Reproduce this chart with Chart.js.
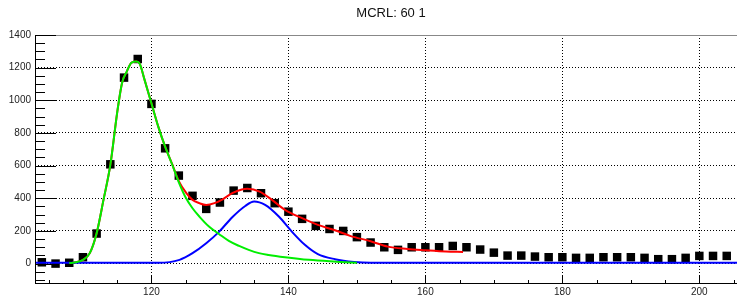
<!DOCTYPE html>
<html>
<head>
<meta charset="utf-8">
<script src="https://cdn.jsdelivr.net/npm/chart.js@4/dist/chart.umd.min.js"></script>
<style>
  html, body { margin: 0; padding: 0; background: #fff; }
  #wrap { width: 743px; height: 297px; }
</style>
</head>
<body>
<div id="wrap"><canvas id="fitChart"></canvas></div>
<script>
// histogram bins (centres) and counts
const binX = [104, 106, 108, 110, 112, 114, 116, 118, 120, 122, 124, 126, 128, 130, 132, 134,
              136, 138, 140, 142, 144, 146, 148, 150, 152, 154, 156, 158, 160, 162, 164, 166,
              168, 170, 172, 174, 176, 178, 180, 182, 184, 186, 188, 190, 192, 194, 196, 198,
              200, 202, 204];
const binY = [8, 0, 5, 39, 184, 608, 1139, 1253, 978, 706, 539, 415, 335, 374, 447, 463,
              431, 370, 318, 274, 231, 212, 200, 162, 129, 100, 84, 100, 100, 100, 108, 100,
              86, 67, 49, 49, 43, 39, 39, 35, 35, 39, 39, 39, 35, 27, 27, 35,
              47, 47, 47];

// total fit (red)
const totalX = [108, 109, 110, 111, 112, 113, 114, 115, 115.7, 116.4, 117.1, 117.8, 118.3, 119, 120, 121,
                122, 123, 124, 125.1, 126, 127, 128, 129.2, 130.4, 131.8, 133.2, 134, 135.8, 137.6, 139.5, 142,
                144.3, 146.8, 149, 152, 154.5, 157.4, 160, 163, 165.5];
const totalY = [3, 8, 23, 64, 186, 390, 604, 925, 1105, 1176, 1231, 1237, 1223, 1125, 982, 839,
                716, 612, 505, 431, 390, 370, 359, 370, 394, 431, 454, 458, 441, 390, 329, 278,
                237, 204, 170, 137, 104, 90, 82, 74, 71];

// first peak (green)
const peak1X = [108, 109, 110, 111, 112, 113, 114, 115, 115.7, 116.4, 117.1, 117.8, 118.3, 119, 120, 121,
                122, 123, 124, 125, 126, 127, 128.4, 129.9, 131.3, 132.8, 134.2, 135.7, 137.1, 139.5, 143, 147,
                150];
const peak1Y = [3, 8, 23, 64, 186, 390, 604, 925, 1105, 1176, 1231, 1237, 1223, 1125, 982, 839,
                716, 610, 498, 405, 339, 288, 227, 180, 139, 108, 84, 64, 53, 39, 23, 12,
                5];

// second peak (blue)
const peak2X = [103, 121, 124.1, 126, 128, 129.9, 131.8, 133.7, 135, 136.6, 138.6, 140.5, 142.4, 144.3, 146.8, 149.6,
                152, 205.5];
const peak2Y = [5, 5, 23, 64, 125, 196, 284, 353, 380, 359, 288, 196, 115, 58, 27, 10,
                5, 5];

const xMajor = [120, 140, 160, 180, 200];
const yMajor = [0, 200, 400, 600, 800, 1000, 1200, 1400];

function toPoints(xs, ys)
{
    return xs.map((x, i) => ({ x: x, y: ys[i] }));
}

// ROOT style frame with inward ticks
const rootFrame = {
    id: 'rootFrame',
    afterDatasetsDraw(chart) {
        const ctx = chart.ctx;
        const a = chart.chartArea;
        const xs = chart.scales.x;
        const ys = chart.scales.y;
        ctx.save();

        // top edge of the frame, light
        ctx.strokeStyle = '#888';
        ctx.lineWidth = 1;
        ctx.beginPath();
        ctx.moveTo(a.left, a.top + 0.5);
        ctx.lineTo(a.right, a.top + 0.5);
        ctx.stroke();

        ctx.strokeStyle = '#000';
        ctx.beginPath();
        for (let v = 105; v <= 205; v += 5)
        {
            const px = Math.round(xs.getPixelForValue(v)) + 0.5;
            const len = (v % 20 === 0) ? 8 : 4;
            ctx.moveTo(px, a.bottom);
            ctx.lineTo(px, a.bottom - len);
        }
        for (let v = -100; v <= 1400; v += 50)
        {
            const py = Math.round(ys.getPixelForValue(v)) + 0.5;
            const len = (v % 200 === 0) ? 21 : 10;
            ctx.moveTo(a.left, py);
            ctx.lineTo(a.left + len, py);
        }
        // axis lines
        ctx.moveTo(a.left + 0.5, a.top);
        ctx.lineTo(a.left + 0.5, a.bottom);
        ctx.moveTo(a.left, a.bottom - 0.5);
        ctx.lineTo(a.right, a.bottom - 0.5);
        ctx.stroke();

        ctx.fillStyle = '#111';
        ctx.font = '13px "Liberation Sans", Arial, sans-serif';
        ctx.textAlign = 'center';
        ctx.textBaseline = 'middle';
        ctx.fillText('MCRL: 60 1', 391, 13);
        ctx.restore();
    }
};

const chart_ctx = document.getElementById('fitChart').getContext('2d');

const fitChart = new Chart(chart_ctx, {
    type: 'scatter',
    data: {
        datasets: [
            {
                label: 'peak 1',
                data: toPoints(peak1X, peak1Y),
                showLine: true,
                borderColor: '#00ee00',
                borderWidth: 2,
                pointRadius: 0,
                cubicInterpolationMode: 'monotone'
            },
            {
                label: 'peak 2',
                data: toPoints(peak2X, peak2Y),
                showLine: true,
                borderColor: '#0000ff',
                borderWidth: 2,
                pointRadius: 0,
                cubicInterpolationMode: 'monotone'
            },
            {
                label: 'total',
                data: toPoints(totalX, totalY),
                showLine: true,
                borderColor: '#ff0000',
                borderWidth: 2,
                pointRadius: 0,
                cubicInterpolationMode: 'monotone'
            },
            {
                label: 'data',
                data: toPoints(binX, binY),
                showLine: false,
                pointStyle: 'rect',
                pointRadius: 6,
                backgroundColor: '#000',
                borderColor: '#000',
                borderWidth: 0
            }
        ]
    },
    options: {
        responsive: true,
        maintainAspectRatio: false,
        animation: false,
        layout: { padding: { top: 35, right: 0, left: 0, bottom: 0 } },
        plugins: {
            legend: { display: false },
            title: { display: false },
            tooltip: { enabled: false }
        },
        scales: {
            x: {
                type: 'linear',
                min: 103,
                max: 205.5,
                afterBuildTicks: (scale) => { scale.ticks = xMajor.map(v => ({ value: v })); },
                afterFit: (scale) => { scale.height = 13; },
                grid: { color: '#000', lineWidth: 1, drawTicks: false },
                border: { display: false, dash: [1, 2] },
                ticks: {
                    padding: 2,
                    color: '#222',
                    font: { family: '"Liberation Sans", Arial, sans-serif', size: 10 },
                    maxRotation: 0,
                    callback: v => String(v)
                }
            },
            y: {
                min: -125,
                max: 1400,
                afterBuildTicks: (scale) => { scale.ticks = yMajor.map(v => ({ value: v })); },
                afterFit: (scale) => { scale.width = 35; },
                grid: { color: '#000', lineWidth: 1, drawTicks: false },
                border: { display: false, dash: [1, 2] },
                ticks: {
                    padding: 4,
                    color: '#222',
                    font: { family: '"Liberation Sans", Arial, sans-serif', size: 10 },
                    callback: v => String(v)
                }
            }
        }
    },
    plugins: [rootFrame]
});
</script>
</body>
</html>
